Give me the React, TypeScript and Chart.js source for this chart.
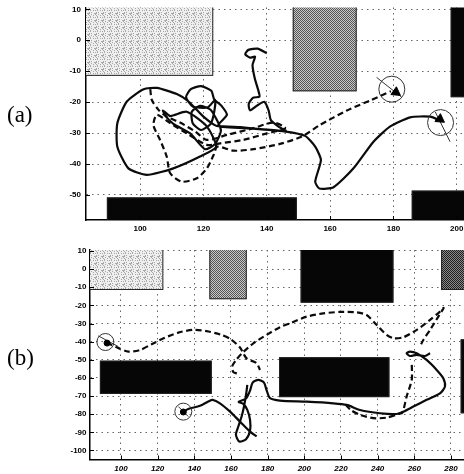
import React, { useEffect, useRef } from "react";
import { Chart, registerables } from "chart.js";
Chart.register(...registerables);

// ---------- Panel (a) ----------
const xTicksA = [100, 120, 140, 160, 180, 200];
const yTicksA = [-50, -40, -30, -20, -10, 0, 10];
const xRangeA = [82.9, 202.3];
const yRangeA = [-58.1, 10.6];

// obstacles: [xFrom, xTo, yFrom, yTo, kind]
const obstaclesA: [number, number, number, number, string][] = [
  [70, 123.1, -11.5, 14, "light"],
  [148.2, 168.4, -16.5, 14, "medium"],
  [198.1, 215, -18.4, 14, "black"],
  [89.5, 149.5, -65, -50.8, "black"],
  [185.8, 215, -65, -48.6, "black"],
];

const solidPathA = [
  [140.0, -4.2], [137.1, -2.7], [134.2, -3.1], [133.2, -4.5], [134.7, -5.6], [136.3, -5.3],
  [135.5, -8.0], [136.2, -12.3], [137.3, -16.1], [137.7, -18.2], [135.6, -18.6], [134.3, -20.6],
  [134.7, -22.7], [137.1, -21.0], [139.2, -19.9], [140.6, -22.7], [141.3, -25.8], [144.0, -28.1],
  [146.0, -29.3], [138.9, -28.8], [131.6, -28.1], [124.7, -27.5], [127.4, -24.1], [125.7, -21.2],
  [123.4, -19.1], [122.5, -16.3], [119.2, -14.8], [116.0, -15.8], [114.5, -18.4], [116.6, -21.4],
  [121.3, -21.7], [123.7, -19.3], [123.4, -23.1], [122.3, -27.0], [119.2, -29.0], [116.6, -26.8],
  [116.3, -23.1], [118.9, -21.2], [122.3, -22.5], [125.5, -29.0], [123.7, -33.5], [120.5, -35.2],
  [115.8, -30.1], [110.5, -27.0], [108.2, -24.7], [107.2, -22.7], [109.5, -24.5], [114.7, -23.1],
  [121.1, -27.9], [124.0, -34.4], [118.9, -37.6], [110.5, -41.4], [102.1, -43.5], [96.3, -41.4],
  [92.8, -34.4], [92.8, -26.8], [95.8, -19.8], [101.1, -15.8], [105.3, -15.4], [111.6, -17.4],
  [115.3, -19.8], [120.0, -24.7], [124.2, -27.7], [135.8, -28.6], [146.0, -29.5], [152.1, -30.9],
  [155.3, -34.4], [157.1, -38.7], [155.3, -45.7], [156.6, -47.9], [161.1, -47.5], [167.4, -41.4],
  [173.7, -32.8], [178.9, -27.9], [185.3, -24.9], [191.6, -24.7], [194.9, -26.0],
];

const dashedPathA = [
  [103.2, -15.8], [103.7, -19.3], [105.8, -22.5], [108.4, -24.7], [112.6, -26.6], [117.4, -29.5],
  [121.1, -32.2], [127.4, -30.6], [135.8, -28.4], [142.1, -26.6], [145.8, -28.4], [140.0, -30.1],
  [132.6, -32.2], [125.3, -33.3], [121.1, -33.8], [114.7, -30.1], [109.5, -26.8], [105.3, -24.1],
  [104.2, -27.4], [106.3, -32.2], [108.4, -37.6], [109.5, -43.0], [113.2, -45.7], [117.9, -44.6],
  [121.1, -41.4], [123.2, -37.1], [124.4, -34.4], [129.5, -35.7], [135.8, -35.2], [144.2, -33.5],
  [151.1, -31.1], [156.8, -27.4], [165.3, -22.7], [172.6, -19.5], [179.2, -16.5],
];

const endCirclesA = [[179.5, -15.8], [194.9, -26.6]];
const headingDashedA = [[174.7, -12.0], [182.6, -18.4]];
const headingSolidA = [[193.2, -23.1], [197.9, -32.8]];
const arrowHeadsA = [[180.8, -16.8], [194.7, -25.5]];

// ---------- Panel (b) ----------
const xTicksB = [100, 120, 140, 160, 180, 200, 220, 240, 260, 280];
const yTicksB = [-100, -90, -80, -70, -60, -50, -40, -30, -20, -10, 0, 10];
const xRangeB = [83.1, 287.1];
const yRangeB = [-105, 10.55];

const obstaclesB: [number, number, number, number, string][] = [
  [70, 123.1, -11.5, 14, "light"],
  [148.2, 168.6, -16.6, 14, "medium"],
  [198.0, 248.6, -18.5, 14, "black"],
  [274.6, 295, -11.5, 14, "dark"],
  [88.5, 149.5, -68.8, -50.5, "black"],
  [186.2, 246.4, -70.6, -48.6, "black"],
  [285.3, 295, -79.5, -38.7, "black"],
];

const dashedB1 = [
  [92.2, -40.5], [97.6, -43.1], [104.0, -45.5], [110.4, -44.6], [116.7, -41.4], [124.0, -37.8],
  [131.3, -35.0], [139.4, -33.5], [146.7, -34.2], [154.9, -36.3], [159.8, -38.6], [164.9, -43.2],
  [168.5, -49.2], [174.0, -51.9], [175.8, -55.6],
];
const dashedB2 = [
  [163.2, -57.5], [161.3, -56.8], [160.6, -53.8], [162.6, -50.4], [165.8, -46.6], [172.2, -40.9],
  [179.4, -36.3], [186.7, -32.0], [192.2, -29.9], [201.3, -26.2], [210.4, -24.4], [219.5, -23.6],
  [228.6, -23.8], [234.0, -25.3], [239.5, -30.8], [244.9, -36.3], [248.6, -38.1], [254.0, -37.6],
  [261.3, -33.5], [268.6, -28.0], [274.0, -23.4], [276.0, -21.4], [273.1, -26.2], [268.6, -33.5],
  [264.9, -39.1], [263.1, -42.7],
];
const dashedB3 = [
  [222.5, -74.8], [225.5, -77.8], [230.4, -80.4], [237.6, -82.2], [244.9, -81.9], [251.3, -79.9],
  [253.5, -79.2], [255.8, -70.3], [258.6, -61.1], [258.6, -51.9],
];
const solidB1 = [
  [134.0, -78.6], [136.7, -77.1], [143.1, -75.4], [147.6, -73.0], [150.0, -72.1], [154.0, -74.0],
  [159.5, -78.6], [164.9, -84.1], [170.4, -89.6], [174.0, -92.3],
];
const solidB2 = [
  [168.9, -63.9], [168.2, -69.4], [167.1, -75.8], [165.8, -81.3], [164.0, -86.8], [162.7, -91.4],
  [164.6, -95.1], [168.2, -93.8], [170.4, -89.0], [170.4, -83.2], [168.9, -77.6], [166.7, -74.3],
  [164.2, -73.2], [168.2, -71.4], [170.4, -67.0], [171.8, -62.6], [174.9, -61.1], [178.0, -62.6],
  [179.5, -67.0], [181.3, -71.2], [186.7, -72.5], [201.3, -73.1], [215.8, -74.0], [223.1, -74.9],
  [230.4, -77.7], [241.3, -79.5], [250.4, -79.9], [254.0, -78.6], [259.5, -75.8], [266.7, -72.1],
  [274.0, -68.5], [276.7, -64.8], [275.8, -60.2], [272.2, -55.6], [266.7, -50.1], [261.3, -46.4],
  [257.6, -45.5], [255.8, -46.4], [257.6, -47.9], [261.3, -47.3], [265.8, -47.9], [268.6, -46.4],
];
const endCirclesB = [[91.5, -40.2], [134.0, -78.6]];
const headingB1 = [[87.6, -36.8], [98.5, -42.7]];
const headingB2 = [[131.3, -75.8], [136.7, -81.3]];
const dotsB = [[92.4, -40.8], [134.0, -78.8]];

// ---------- helpers ----------
const pts = (a: number[][]) => a.map(([x, y]) => ({ x, y }));

function makePattern(w: number, h: number, colorAt: (i: number, j: number) => string) {
  const c = document.createElement("canvas");
  c.width = w;
  c.height = h;
  const g = c.getContext("2d")!;
  for (let i = 0; i < w; i++)
    for (let j = 0; j < h; j++) {
      g.fillStyle = colorAt(i, j);
      g.fillRect(i, j, 1, 1);
    }
  return g.createPattern(c, "repeat")!;
}

function fillsFor(): Record<string, any> {
  return {
    light: makePattern(7, 7, (i, j) => ((i * 7 + j * 13 + i * j * 5) % 9 < 3 ? "#a8a8a8" : "#efefef")),
    medium: makePattern(2, 2, (i, j) => ((i + j) % 2 === 0 ? "#555555" : "#c8c8c8")),
    dark: makePattern(2, 2, (i, j) => ((i + j) % 2 === 0 ? "#1e1e1e" : "#8a8a8a")),
    black: "#060606",
  };
}

function obstaclePlugin(items: [number, number, number, number, string][], fills: Record<string, any>) {
  return {
    id: "obstacles",
    beforeDatasetsDraw(chart: any) {
      const { ctx, chartArea: ca, scales } = chart;
      const xs = scales.x, ys = scales.y;
      ctx.save();
      ctx.beginPath();
      ctx.rect(ca.left, ca.top, ca.right - ca.left, ca.bottom - ca.top);
      ctx.clip();
      for (const [x0, x1, y0, y1, kind] of items) {
        const l = xs.getPixelForValue(x0), r = xs.getPixelForValue(x1);
        const t = ys.getPixelForValue(y1), b = ys.getPixelForValue(y0);
        ctx.fillStyle = fills[kind];
        ctx.fillRect(l, t, r - l, b - t);
        ctx.strokeStyle = "#222";
        ctx.lineWidth = 1;
        ctx.strokeRect(l + 0.5, t + 0.5, r - l - 1, b - t - 1);
      }
      ctx.restore();
    },
    afterDraw(chart: any) {
      // Matlab-style inward tick marks on the left and bottom axes
      const { ctx, chartArea: ca, scales } = chart;
      ctx.save();
      ctx.strokeStyle = "#000";
      ctx.lineWidth = 1;
      ctx.beginPath();
      for (const t of scales.x.ticks) {
        const px = Math.round(scales.x.getPixelForValue(t.value)) + 0.5;
        ctx.moveTo(px, ca.bottom);
        ctx.lineTo(px, ca.bottom - 4);
      }
      for (const t of scales.y.ticks) {
        const py = Math.round(scales.y.getPixelForValue(t.value)) + 0.5;
        ctx.moveTo(ca.left, py);
        ctx.lineTo(ca.left + 4, py);
      }
      ctx.stroke();
      ctx.restore();
    },
  };
}

const lineDs = (data: number[][], dashed: boolean, tension = 0.25) => ({
  data: pts(data),
  showLine: true,
  borderColor: "#0b0b0b",
  borderWidth: 2.2,
  borderDash: dashed ? [6, 3.5] : [],
  tension,
  pointRadius: 0,
  fill: false,
  borderCapStyle: "butt",
  borderJoinStyle: "round",
});
const thinDs = (data: number[][]) => ({
  data: pts(data),
  showLine: true,
  borderColor: "#333",
  borderWidth: 1,
  pointRadius: 0,
  fill: false,
});
const circleDs = (data: number[][], r: number) => ({
  data: pts(data),
  showLine: false,
  pointStyle: "circle",
  pointRadius: r,
  pointBorderColor: "#333",
  pointBorderWidth: 1,
  pointBackgroundColor: "rgba(0,0,0,0)",
});
const arrowDs = (data: number[][], r: number, rot: number, style: string) => ({
  data: pts(data),
  showLine: false,
  pointStyle: style,
  pointRadius: r,
  pointRotation: rot,
  pointBorderColor: "#000",
  pointBorderWidth: 1,
  pointBackgroundColor: "#000",
});

const tickFont = { family: "'Liberation Sans', Arial, sans-serif", size: 8, weight: "bold" as const };

function makeChart(canvas: HTMLCanvasElement, o: any) {
  const grid = { color: "#666", lineWidth: 1, drawTicks: false };
  const border = { display: true, color: "#000", width: 1.5, dash: [1.5, 4] };
  return new Chart(canvas, {
    type: "scatter",
    data: { datasets: o.datasets },
    options: {
      animation: false,
      responsive: false,
      maintainAspectRatio: false,
      events: [],
      layout: { autoPadding: false, padding: { top: o.padTop, left: 0, right: 0, bottom: 0 } },
      plugins: { legend: { display: false }, tooltip: { enabled: false } },
      scales: {
        x: {
          type: "linear",
          min: o.xr[0],
          max: o.xr[1],
          grid,
          border,
          ticks: { font: { ...tickFont, style: o.italicX ? "italic" : "normal" }, color: "#000", padding: o.xPad, maxRotation: 0, autoSkip: false },
          afterBuildTicks: (s: any) => { s.ticks = o.xt.map((v: number) => ({ value: v })); },
          afterFit: (s: any) => { s.height = o.xAxisH; s.paddingLeft = 0; s.paddingRight = 0; },
        },
        y: {
          type: "linear",
          min: o.yr[0],
          max: o.yr[1],
          grid,
          border,
          ticks: { font: tickFont, color: "#000", padding: o.yPad, autoSkip: false },
          afterBuildTicks: (s: any) => { s.ticks = o.yt.map((v: number) => ({ value: v })); },
          afterFit: (s: any) => { s.width = o.yAxisW; s.paddingTop = 0; s.paddingBottom = 0; },
        },
      },
    } as any,
    plugins: [obstaclePlugin(o.obstacles, fillsFor())],
  });
}

export default function App() {
  const refA = useRef<HTMLCanvasElement>(null);
  const refB = useRef<HTMLCanvasElement>(null);

  useEffect(() => {
    const a = makeChart(refA.current!, {
      xr: xRangeA, yr: yRangeA, xt: xTicksA, yt: yTicksA,
      yAxisW: 86, xAxisH: 16, padTop: 7.5, xPad: 4, yPad: 5, italicX: false,
      obstacles: obstaclesA,
      datasets: [
        arrowDs(arrowHeadsA, 5.5, 125, "triangle"),
        circleDs(endCirclesA, 13),
        thinDs(headingDashedA),
        thinDs(headingSolidA),
        lineDs(solidPathA, false, 0.2),
        lineDs(dashedPathA, true),
      ],
    });
    const b = makeChart(refB.current!, {
      xr: xRangeB, yr: yRangeB, xt: xTicksB, yt: yTicksB,
      yAxisW: 90, xAxisH: 14.5, padTop: 14, xPad: 4, yPad: 3.5, italicX: true,
      obstacles: obstaclesB,
      datasets: [
        arrowDs(dotsB, 3, 0, "circle"),
        circleDs(endCirclesB, 8.5),
        thinDs(headingB1),
        thinDs(headingB2),
        lineDs(solidB1, false),
        lineDs(solidB2, false),
        lineDs(dashedB1, true),
        lineDs(dashedB2, true),
        lineDs(dashedB3, true),
      ],
    });
    return () => {
      a.destroy();
      b.destroy();
    };
  }, []);

  const labelStyle: React.CSSProperties = {
    position: "absolute",
    left: 7,
    fontFamily: "'Liberation Serif', 'Times New Roman', serif",
    fontSize: 23,
    lineHeight: "26px",
    color: "#000",
  };

  return (
    <div style={{ position: "fixed", left: 0, top: 0, width: 464, height: 474, background: "#fff", overflow: "hidden" }}>
      <canvas ref={refA} width={464} height={236} style={{ position: "absolute", left: 0, top: 0 }} />
      <canvas ref={refB} width={464} height={238} style={{ position: "absolute", left: 0, top: 236 }} />
      <div style={{ ...labelStyle, top: 102 }}>(a)</div>
      <div style={{ ...labelStyle, top: 345 }}>(b)</div>
    </div>
  );
}
